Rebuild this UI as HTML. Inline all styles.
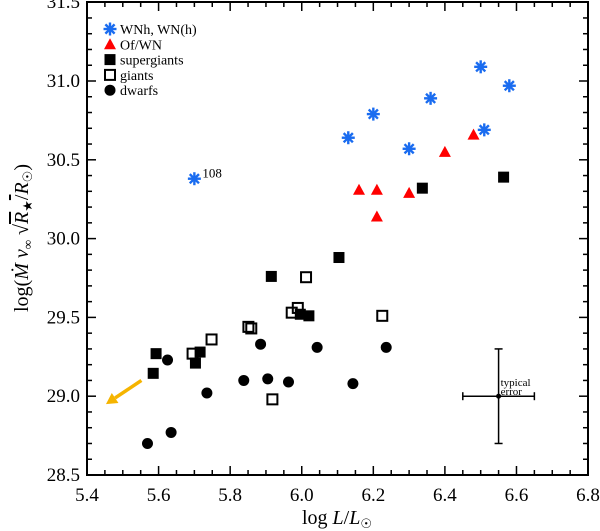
<!DOCTYPE html>
<html><head><meta charset="utf-8"><style>
html,body{margin:0;padding:0;background:#fff;}
svg{display:block;font-family:"Liberation Serif",serif;}
</style></head><body>
<svg id="chart" width="600" height="531" viewBox="0 0 600 531">
<rect x="87" y="2" width="501" height="473" fill="none" stroke="#000" stroke-width="2"/>
<g id="ticks"></g>
<g id="marks"></g>
<text x="337" y="524" font-size="20" text-anchor="middle">log <tspan font-style="italic">L</tspan>/<tspan font-style="italic">L</tspan><tspan font-size="13" dy="4">☉</tspan></text>
<text transform="translate(28,238) rotate(-90)" font-size="20" text-anchor="middle">log(<tspan font-style="italic">Ṁ v</tspan><tspan font-size="13" dy="4">∞</tspan><tspan dy="-4"> √</tspan><tspan text-decoration="overline" font-style="italic">R</tspan><tspan font-size="13" dy="4">★</tspan><tspan dy="-4" text-decoration="overline">/</tspan><tspan font-style="italic">R</tspan><tspan font-size="13" dy="4">☉</tspan><tspan dy="-4">)</tspan></text>
<g id="legend"></g>
</svg>
<script>
const wnhX=[5.70,6.13,6.20,6.30,6.36,6.50,6.51,6.58];
const wnhY=[30.38,30.64,30.79,30.57,30.89,31.09,30.69,30.97];
const ofX=[6.16,6.21,6.21,6.30,6.40,6.48];
const ofY=[30.31,30.31,30.14,30.29,30.55,30.66];
const sgX=[6.104,5.915,5.996,6.02,5.593,5.716,5.703,5.585,6.337,6.564];
const sgY=[29.88,29.76,29.52,29.51,29.27,29.28,29.21,29.145,30.32,30.39];
const gX=[6.012,5.989,5.972,6.225,5.851,5.859,5.748,5.695,5.918];
const gY=[29.755,29.56,29.53,29.51,29.44,29.43,29.36,29.27,28.98];
const dX=[5.885,6.043,6.236,5.625,5.838,5.905,5.963,6.143,5.735,5.569,5.635];
const dY=[29.33,29.31,29.31,29.23,29.10,29.11,29.09,29.08,29.02,28.70,28.77];
const xTicks=[5.4,5.6,5.8,6.0,6.2,6.4,6.6,6.8];
const yTicks=[28.5,29.0,29.5,30.0,30.5,31.0,31.5];
const errX=[6.55], errY=[29.0], errDx=[0.1], errDy=[0.3];
const arrowX=[5.552,5.453], arrowY=[29.10,28.95];

const NS='http://www.w3.org/2000/svg';
const X=v=>87+(v-5.4)*357.9;
const Y=v=>475-(v-28.5)*157.6;
function el(t,a,p){const e=document.createElementNS(NS,t);for(const k in a)e.setAttribute(k,a[k]);p.appendChild(e);return e;}
const T=document.getElementById('ticks'),M=document.getElementById('marks'),L=document.getElementById('legend');
for(let i=0;i<=28;i++){const v=5.4+i*0.05,x=X(v),big=i%4===0,len=big?9:5;
 el('line',{x1:x,x2:x,y1:475,y2:475-len,stroke:'#000','stroke-width':1.5},T);
 el('line',{x1:x,x2:x,y1:2,y2:2+len,stroke:'#000','stroke-width':1.5},T);}
for(let i=0;i<=30;i++){const v=28.5+i*0.1,y=Y(v),big=i%5===0,len=big?9:5;
 el('line',{x1:87,x2:87+len,y1:y,y2:y,stroke:'#000','stroke-width':1.5},T);
 el('line',{x1:588,x2:588-len,y1:y,y2:y,stroke:'#000','stroke-width':1.5},T);}
xTicks.forEach(v=>{const t=el('text',{x:X(v),y:501,'font-size':19,'text-anchor':'middle'},T);t.textContent=v.toFixed(1);
 
 });
yTicks.forEach(v=>{const t=el('text',{x:80,y:Y(v)+6,'font-size':19,'text-anchor':'end'},T);t.textContent=v.toFixed(1);
 
 });
function star(x,y,p){const g=el('g',{stroke:'#1a6cf0','stroke-width':2.4},p);const r=6.5;
 for(let k=0;k<4;k++){const a=k*Math.PI/4;el('line',{x1:x-r*Math.cos(a),y1:y-r*Math.sin(a),x2:x+r*Math.cos(a),y2:y+r*Math.sin(a)},g);}return g;}
function tri(x,y,p){return el('polygon',{points:`${x-6},${y+5} ${x+6},${y+5} ${x},${y-6}`,fill:'#f00'},p);}
function fsq(x,y,p){return el('rect',{x:x-5.5,y:y-5.5,width:11,height:11,fill:'#000'},p);}
function osq(x,y,p){return el('rect',{x:x-5,y:y-5,width:10,height:10,fill:'none',stroke:'#000','stroke-width':2},p);}
function dot(x,y,p){return el('circle',{cx:x,cy:y,r:5.5,fill:'#000'},p);}
wnhX.forEach((v,i)=>{const m=star(X(v),Y(wnhY[i]),M);
 
 });
const lab=el('text',{x:X(5.70)+8,y:Y(30.38)-1,'font-size':13},M);lab.textContent='108';


ofX.forEach((v,i)=>{const m=tri(X(v),Y(ofY[i]),M);
 
 });
sgX.forEach((v,i)=>{const m=fsq(X(v),Y(sgY[i]),M);
 
 });
gX.forEach((v,i)=>{const m=osq(X(v),Y(gY[i]),M);
 
 });
dX.forEach((v,i)=>{const m=dot(X(v),Y(dY[i]),M);
 
 });
const eg=el('g',{stroke:'#000','stroke-width':1.5},M);


const ex=X(errX[0]),ey=Y(errY[0]),x1=X(errX[0]-errDx[0]),x2=X(errX[0]+errDx[0]),y1=Y(errY[0]+errDy[0]),y2=Y(errY[0]-errDy[0]);
el('line',{x1:x1,x2:x2,y1:ey,y2:ey},eg);el('line',{x1:ex,x2:ex,y1:y1,y2:y2},eg);
el('line',{x1:x1,x2:x1,y1:ey-4,y2:ey+4},eg);el('line',{x1:x2,x2:x2,y1:ey-4,y2:ey+4},eg);
el('line',{x1:ex-4,x2:ex+4,y1:y1,y2:y1},eg);el('line',{x1:ex-4,x2:ex+4,y1:y2,y2:y2},eg);
el('circle',{cx:ex,cy:ey,r:2.5,fill:'#000',stroke:'none'},eg);
const t1=el('text',{x:ex+2,y:ey-10,'font-size':11},M);t1.textContent='typical';


const t2=el('text',{x:ex+2,y:ey-1,'font-size':11},M);t2.textContent='error';


const ag=el('g',{},M);


const ax1=X(arrowX[0]),ay1=Y(arrowY[0]),ax2=X(arrowX[1]),ay2=Y(arrowY[1]);
const ang=Math.atan2(ay2-ay1,ax2-ax1),hl=11;
const bx=ax2-hl*Math.cos(ang),by=ay2-hl*Math.sin(ang);
el('line',{x1:ax1,y1:ay1,x2:bx,y2:by,stroke:'#f5b400','stroke-width':3.5},ag);
const px=-Math.sin(ang)*6,py=Math.cos(ang)*6;
el('polygon',{points:`${ax2},${ay2} ${bx+px},${by+py} ${bx-px},${by-py}`,fill:'#f5b400'},ag);
const items=[['WNh, WN(h)',star],['Of/WN',tri],['supergiants',fsq],['giants',osq],['dwarfs',dot]];
items.forEach((it,i)=>{const y=29+i*15.3;const g=el('g',{},L);
 
 
 it[1](110,y,g);const t=el('text',{x:120,y:y+5,'font-size':14},g);t.textContent=it[0];});
</script>
</body></html>
